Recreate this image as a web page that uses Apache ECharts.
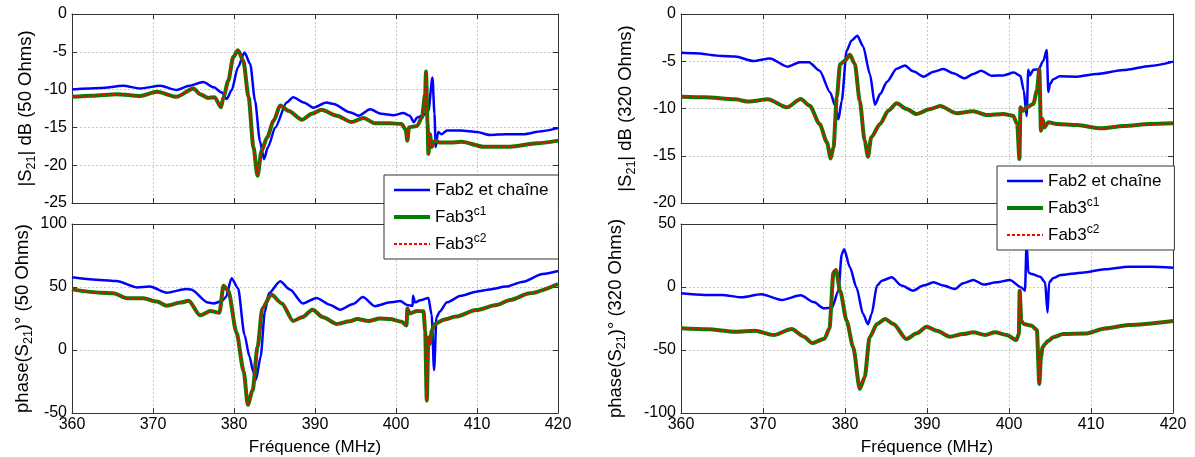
<!DOCTYPE html>
<html><head><meta charset="utf-8">
<script src="https://cdn.jsdelivr.net/npm/echarts@6/dist/echarts.min.js"></script>
<style>html,body{margin:0;padding:0;background:#fff}#c{width:1195px;height:457px}</style>
</head><body><div id="c"></div>
<script>
// ---- Data (frequency MHz, value) ----
const seriesNames = ['Fab2 et chaîne', 'Fab3c1', 'Fab3c2'];
const freqMin = 360, freqMax = 420, freqStep = 10;

// Top-left: |S21| dB (50 Ohms)
const tlFab2 = [[360,-10.0],[363.5,-9.8],[366.3,-9.5],[368.4,-9.85],[370.9,-9.5],[372.9,-10.05],[374.5,-9.5],[376.2,-9.0],[377.5,-9.7],[378.5,-10.4],[379.1,-11.25],[379.7,-10.1],[380.5,-7.0],[381.3,-5.1],[382.0,-6.6],[382.6,-11.5],[383.2,-16.8],[383.7,-19.2],[384.2,-17.6],[385.1,-15.0],[386.5,-11.7],[387.3,-11.0],[388.6,-11.7],[389.8,-12.4],[391.4,-11.7],[392.3,-11.9],[394.3,-13.0],[395.4,-13.45],[396.8,-12.6],[398.2,-13.2],[399.7,-13.4],[400.9,-13.1],[401.7,-13.45],[402.2,-14.3],[402.6,-13.7],[403.4,-13.4],[404.0,-12.8],[404.5,-8.4],[404.75,-13.2],[404.9,-17.6],[405.2,-15.6],[405.6,-15.9],[406.3,-15.4],[408.0,-15.4],[410.0,-15.6],[411.6,-16.0],[413.5,-15.9],[415.7,-15.9],[418.0,-15.5],[420,-15.1]];
const tlFab3c1 = [[360,-10.95],[362.5,-10.8],[365.5,-10.6],[368.4,-10.85],[370.5,-10.3],[372.9,-10.95],[375.0,-9.85],[375.8,-10.6],[376.8,-11.1],[377.6,-11.0],[378.4,-12.35],[378.7,-11.0],[379.3,-8.8],[379.9,-5.7],[380.5,-4.8],[381.15,-6.2],[381.8,-11.0],[382.4,-17.6],[382.9,-21.4],[383.4,-18.1],[384.1,-16.3],[384.9,-14.1],[385.7,-12.1],[386.7,-12.8],[388.4,-14.0],[389.6,-13.2],[390.8,-12.65],[392.7,-13.45],[394.5,-14.3],[396.0,-13.75],[397.4,-14.45],[399.25,-14.45],[400.7,-14.55],[401.2,-15.3],[401.4,-16.75],[401.6,-15.0],[402.6,-14.8],[403.2,-13.7],[403.6,-10.6],[403.7,-7.6],[403.9,-14.55],[404.0,-18.5],[404.2,-15.9],[404.4,-17.6],[404.8,-16.75],[405.4,-17.0],[406.7,-17.0],[408.1,-16.9],[410.8,-17.55],[414.1,-17.55],[417.4,-17.1],[420,-16.75]];
const tlFab3c2 = tlFab3c1; // overlaps c1 at this resolution

// Bottom-left: phase(S21)° (50 Ohms)
const blFab2 = [[360,57.7],[363.5,55.6],[365.5,54.8],[368.0,49.7],[369.6,50.3],[371.7,45.5],[374.1,48.4],[374.7,48],[376.8,37.6],[377.5,37.0],[378.5,38.8],[379.0,42],[379.7,57.0],[380.5,49],[381.3,12],[381.9,-5],[382.4,-17.7],[382.7,-23.8],[383.3,-5],[383.8,30],[384.3,45],[385.7,54.6],[386.9,48],[388.5,37],[390.2,41.3],[391.8,36],[393.1,32],[394.7,36.5],[395.9,42],[397.4,34.8],[399.3,37.8],[400.5,38.8],[401.5,35.5],[402.05,35],[402.1,43],[402.35,37.8],[403.0,39.5],[404.0,41.3],[404.4,28],[404.7,-16],[405.0,26],[405.4,30.5],[406.3,37.8],[408,43],[409.9,46.3],[411.6,48.1],[413.6,50.3],[415.7,54.2],[418.1,60.3],[420,62.7]];
const blFab3c1 = [[360,48.1],[363.5,45.5],[365.1,45],[366.8,41],[368.8,41],[370.5,38.4],[371.7,35.2],[373.4,37.6],[374.4,39],[375.8,27.5],[377.1,31],[378.2,29.5],[378.7,51],[379.3,47],[380.3,14],[381.2,-17],[381.7,-43.5],[382.3,-32],[382.9,2],[383.5,33],[384.6,44],[385.9,37],[387.3,23],[388.4,26],[389.7,32],[391.0,26],[392.7,20.6],[394.3,22.8],[395.2,24.6],[396.6,23],[398.0,25],[399.25,24.6],[400.7,22.5],[401.3,19.5],[401.4,33],[401.7,29],[402.6,31],[403.4,30.7],[403.6,15],[403.8,-40.2],[404.0,10],[404.2,5],[404.4,15.3],[404.8,20.6],[405.9,24],[407.4,26.5],[409.9,31.7],[412.4,35.7],[414.1,39.7],[416.5,45],[420,52.4]];
const blFab3c2 = blFab3c1;

// Top-right: |S21| dB (320 Ohms)
const trFab2 = [[360,-4.1],[361.7,-4.15],[365.0,-4.45],[366.6,-4.5],[368.8,-4.97],[370.85,-4.7],[373.0,-5.57],[374.5,-5.1],[375.6,-5.1],[376.9,-6.0],[378.2,-8.3],[378.8,-9.7],[379.2,-11.15],[379.6,-9.2],[380.2,-3.9],[380.8,-2.8],[381.5,-2.3],[382.2,-3.4],[383.05,-6.4],[383.65,-9.6],[384.3,-8.45],[385.1,-7.2],[386.3,-5.8],[387.3,-5.45],[388.3,-6.07],[389.6,-6.63],[390.8,-6.1],[392.0,-5.82],[393.2,-6.28],[394.6,-6.8],[395.65,-6.35],[396.6,-6.0],[397.9,-6.53],[399.3,-6.5],[400.6,-6.2],[401.4,-6.55],[401.8,-8.1],[402.15,-10.8],[402.35,-5.9],[402.55,-6.5],[402.97,-5.9],[403.6,-5.85],[404.2,-4.94],[404.6,-3.8],[404.8,-8.25],[405.0,-7.4],[405.4,-6.9],[406.2,-6.6],[408.3,-6.63],[410.7,-6.35],[414.0,-5.93],[417.2,-5.5],[420,-5.04]];
const trFab3c1 = [[360,-8.75],[362.9,-8.82],[366.6,-9.03],[368.2,-9.27],[370.6,-9.03],[372.9,-9.88],[374.6,-9.0],[375.7,-9.7],[376.9,-11.64],[377.8,-13.58],[378.25,-15.3],[378.6,-14.1],[379.0,-8.8],[379.4,-5.3],[380.0,-4.94],[380.6,-4.3],[381.2,-5.3],[381.8,-9.17],[382.4,-13.4],[382.8,-15.1],[383.2,-13.05],[384.27,-11.64],[385.3,-10.2],[386.3,-9.45],[387.5,-10.05],[388.7,-10.58],[390.4,-10.05],[391.6,-9.74],[393.6,-10.5],[395.65,-10.3],[397.3,-10.7],[399.3,-10.58],[400.5,-10.76],[401.0,-11.64],[401.27,-15.34],[401.4,-9.88],[401.76,-10.23],[402.15,-9.88],[402.97,-9.52],[403.4,-8.11],[403.7,-5.82],[403.9,-12.35],[404.1,-11.1],[404.3,-12.0],[404.8,-11.46],[405.8,-11.64],[408.3,-11.75],[411.2,-12.1],[414.0,-11.85],[417.2,-11.64],[420,-11.57]];
const trFab3c2 = trFab3c1;

// Bottom-right: phase(S21)° (320 Ohms)
const brFab2 = [[360,-5],[362.9,-6.3],[365.0,-6.3],[367.4,-8.2],[369.8,-5.8],[372.3,-10.3],[374.6,-6.6],[376.2,-12],[377.4,-16.9],[378.4,-16.5],[379.2,-3],[379.6,26],[379.9,30],[380.6,15.6],[381.4,-0.3],[382.2,-21.4],[382.8,-29.5],[383.25,-21.4],[383.9,1.1],[384.5,5.0],[385.7,7.7],[386.9,1.1],[388.3,-2.9],[389.55,1.1],[390.8,3.7],[392.0,1.1],[393.4,-1.6],[394.4,2.9],[395.65,5.6],[396.9,1.9],[398.5,3.7],[400.1,5.6],[401.5,-0.3],[401.95,-2.9],[402.15,36],[402.35,11.6],[402.76,10.3],[403.8,8.2],[404.4,3.7],[404.7,-20.1],[404.9,3.7],[405.4,7.1],[406.3,9.5],[408.9,11.4],[411.7,14],[414.6,16.1],[417.4,16.1],[420,15.3]];
const brFab3c1 = [[360,-32.8],[363.3,-33.6],[366.6,-35.5],[369.0,-34.7],[371.3,-38.1],[373.5,-33.3],[375.0,-39.4],[376.0,-44.5],[377.5,-41],[378.1,-33],[378.6,11.6],[378.9,13.5],[379.4,-2.9],[380.2,-26.7],[381.0,-47.9],[381.8,-80.9],[382.4,-71.7],[383.0,-39.9],[383.9,-29.4],[384.9,-25.4],[385.9,-29.4],[387.5,-41.3],[388.75,-36.8],[389.95,-31.5],[391.2,-34.7],[392.8,-39.4],[394.4,-37.3],[395.65,-36],[397.1,-38.1],[398.3,-36],[399.7,-38.1],[400.9,-42.1],[401.2,-37.3],[401.3,-2.9],[401.5,-26.7],[401.8,-29.4],[402.76,-30.7],[403.4,-34.1],[403.7,-77.0],[403.9,-55.8],[404.1,-47.9],[404.4,-45.2],[404.8,-42.6],[405.4,-39.9],[406.6,-37.3],[409.3,-37],[411.7,-32.9],[414.6,-30.2],[420,-27.0]];
const brFab3c2 = brFab3c1;

// ---- Chart ----
const FONT = 'Liberation Sans, Arial, sans-serif';
const panels = [
  {grid:{left:72,top:14,width:486,height:189}, yMin:-25,yMax:0,yStep:5, yName:'|S{sub|21}| dB (50 Ohms)', yGap:34, xLabel:false, data:[tlFab2,tlFab3c1,tlFab3c2]},
  {grid:{left:72,top:224,width:486,height:189}, yMin:-50,yMax:100,yStep:50, yName:'phase(S{sub|21})° (50 Ohms)', yGap:37, xLabel:true, data:[blFab2,blFab3c1,blFab3c2]},
  {grid:{left:681,top:14,width:492,height:189}, yMin:-20,yMax:0,yStep:5, yName:'|S{sub|21}| dB (320 Ohms)', yGap:43, xLabel:false, data:[trFab2,trFab3c1,trFab3c2]},
  {grid:{left:681,top:224,width:492,height:189}, yMin:-100,yMax:50,yStep:50, yName:'phase(S{sub|21})° (320 Ohms)', yGap:53, xLabel:true, data:[brFab2,brFab3c1,brFab3c2]}
];
const axisLineStyle = {color:'#333', width:1};
const tick = {show:true, inside:true, length:5, lineStyle:{color:'#333'}};
const labelStyle = {color:'#000', fontSize:16, fontFamily:FONT};
const grids=[], xAxes=[], yAxes=[], series=[];
const styles = [
  {color:'#0000ff', lineStyle:{width:2.5, color:'#0000ff'}},
  {color:'#008000', lineStyle:{width:4, color:'#008000'}},
  {color:'#ff0000', lineStyle:{width:2, color:'#ff0000', type:[3,2]}}
];
panels.forEach((p,i)=>{
  grids.push(Object.assign({containLabel:false}, p.grid));
  xAxes.push({type:'value', gridIndex:i, min:freqMin, max:freqMax, interval:freqStep, position:'bottom',
    axisLine:{show:true, onZero:false, lineStyle:axisLineStyle}, axisTick:tick,
    axisLabel:Object.assign({show:p.xLabel, margin:4}, labelStyle),
    splitLine:{show:true, lineStyle:{color:'#c8c8c8', type:[2,2]}},
    name: p.xLabel ? 'Fréquence (MHz)' : '', nameLocation:'middle', nameGap:26,
    nameTextStyle:{color:'#000', fontSize:17, fontFamily:FONT}});
  xAxes.push({type:'value', gridIndex:i, min:freqMin, max:freqMax, interval:freqStep, position:'top',
    axisLine:{show:true, onZero:false, lineStyle:axisLineStyle}, axisTick:tick, axisLabel:{show:false}, splitLine:{show:false}});
  yAxes.push({type:'value', gridIndex:i, min:p.yMin, max:p.yMax, interval:p.yStep, position:'left',
    axisLine:{show:true, onZero:false, lineStyle:axisLineStyle}, axisTick:tick,
    axisLabel:Object.assign({margin:5}, labelStyle),
    splitLine:{show:true, lineStyle:{color:'#c8c8c8', type:[2,2]}},
    name:p.yName, nameLocation:'middle', nameGap:p.yGap,
    nameTextStyle:{color:'#000', fontSize:18.5, fontFamily:FONT, lineHeight:24,
      rich:{sub:{fontSize:12.5, fontFamily:FONT, lineHeight:13, verticalAlign:'bottom', color:'#000'}}}});
  yAxes.push({type:'value', gridIndex:i, min:p.yMin, max:p.yMax, interval:p.yStep, position:'right',
    axisLine:{show:true, onZero:false, lineStyle:axisLineStyle}, axisTick:tick, axisLabel:{show:false}, splitLine:{show:false}});
  p.data.forEach((d,k)=>{
    series.push(Object.assign({type:'line', name:seriesNames[k], xAxisIndex:2*i, yAxisIndex:2*i,
      data:d, symbol:'none', showSymbol:false, smooth:0.25, smoothMonotone:'x', z:2+k, silent:true, animation:false}, styles[k]));
  });
});
const legendCommon = {orient:'vertical', data:seriesNames, itemWidth:36, itemHeight:14, itemGap:5,
  backgroundColor:'#fff', borderColor:'#333', borderWidth:1, borderRadius:0, z:10,
  selectedMode:false, itemStyle:{opacity:0},
  lineStyle:{width:'inherit', type:'inherit', color:'inherit'},
  formatter: n => n==='Fab3c1' ? 'Fab3{s|c1}' : (n==='Fab3c2' ? 'Fab3{s|c2}' : n),
  textStyle:{color:'#000', fontSize:17, fontFamily:FONT, lineHeight:22,
    rich:{s:{fontSize:12, fontFamily:FONT, lineHeight:12, verticalAlign:'top', color:'#000'}}}};
const chart = echarts.init(document.getElementById('c'), null, {renderer:'canvas'});
chart.setOption({
  animation:false,
  backgroundColor:'#fff',
  grid:grids, xAxis:xAxes, yAxis:yAxes, series:series,
  legend:[
    Object.assign({left:384, top:175, padding:[4,10,4,8]}, legendCommon),
    Object.assign({left:997, top:166, padding:[4,13,4,8]}, legendCommon)
  ]
});
</script></body></html>
